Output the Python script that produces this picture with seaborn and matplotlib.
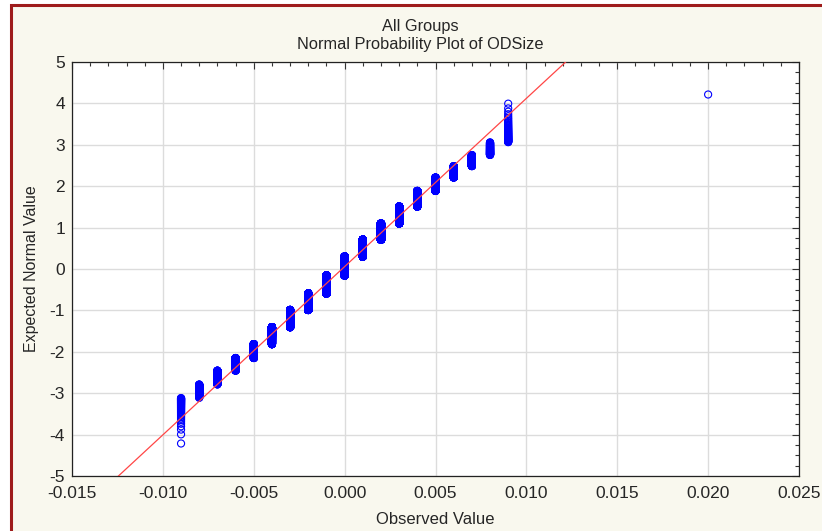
import numpy as np
import pandas as pd
import seaborn as sns
import matplotlib.pyplot as plt
import matplotlib as mpl
from matplotlib.patches import Rectangle
from statistics import NormalDist

sns.set_style("white")
plt.rcParams['font.family'] = ['Liberation Sans', 'DejaVu Sans']
plt.rcParams['axes.unicode_minus'] = False

valores = [-0.009, -0.008, -0.007, -0.006, -0.005, -0.004, -0.003, -0.002, -0.001,
           0.000, 0.001, 0.002, 0.003, 0.004, 0.005, 0.006, 0.007, 0.008, 0.009, 0.020]
frecuencias = [46, 86, 220, 437, 949, 2262, 4055, 5825, 8040,
               8975, 7165, 5155, 3510, 1790, 807, 354, 177, 92, 54, 1]

xticks = [-0.015, -0.010, -0.005, 0.000, 0.005, 0.010, 0.015, 0.020, 0.025]
yticks = [-5, -4, -3, -2, -1, 0, 1, 2, 3, 4, 5]

# Armo la muestra completa y calculo el valor normal esperado (Blom)
obs = np.sort(np.repeat(valores, frecuencias))
n = len(obs)
rangos = np.arange(1, n + 1)
nd = NormalDist()
esperado = np.array([nd.inv_cdf(p) for p in (rangos - 0.375) / (n + 0.25)])
datos = pd.DataFrame({"obs": obs, "esperado": esperado})

media = obs.mean()
desvio = obs.std()

fig = plt.figure(figsize=(8.22, 5.31), dpi=100, facecolor="white")
# Marco de fondo crema con borde bordo
fig.patches.append(Rectangle((11 / 822, -0.05), 1.1, 1 - 5 / 531 + 0.05,
                             transform=fig.transFigure, facecolor="#F9F8EE",
                             edgecolor="#9E1B1B", linewidth=2.2, zorder=-1))
ax = fig.add_axes([72 / 822, 1 - 476 / 531, 727 / 822, 414 / 531])
ax.set_facecolor("white")

sns.scatterplot(data=datos, x="obs", y="esperado", ax=ax, marker="o", s=26,
                facecolor="none", edgecolor="#0000FF", linewidth=0.8, zorder=3)

# Recta normal teorica
xl = np.array([xticks[0], xticks[-1]])
ax.plot(xl, (xl - media) / desvio, color="#FF4646", linewidth=0.9, zorder=4)

ax.set_xlim(xticks[0], xticks[-1])
ax.set_ylim(yticks[0], yticks[-1])
ax.set_xticks(xticks, labels=[f"{t:.3f}" for t in xticks])
ax.set_yticks(yticks, labels=[str(t) for t in yticks])
ax.xaxis.set_minor_locator(mpl.ticker.MultipleLocator(0.001))
ax.yaxis.set_minor_locator(mpl.ticker.MultipleLocator(0.25))
ax.tick_params(which="both", direction="in", top=True, right=True,
               color="#333333", labelsize=12.5, width=0.8)
ax.tick_params(which="major", length=5)
ax.tick_params(axis="x", which="major", pad=7)
ax.tick_params(axis="y", which="major", pad=5)
ax.tick_params(which="minor", length=3)
ax.grid(True, which="major", color="#DCDCDC", linewidth=1)
for sp in ax.spines.values():
    sp.set_color("#222222")
    sp.set_linewidth(0.9)

ax.set_xlabel("Observed Value", fontsize=12)
ax.set_ylabel("Expected Normal Value", fontsize=11.5)
ax.xaxis.set_label_coords(0.5, -0.087)
ax.yaxis.set_label_coords(-0.046, 0.5)

fig.text(420 / 822, 1 - 26 / 531, "All Groups", ha="center", va="center", fontsize=11.8)
fig.text(420 / 822, 1 - 44 / 531, "Normal Probability Plot of ODSize",
         ha="center", va="center", fontsize=11.8)

plt.savefig("out.png", dpi=100, facecolor=fig.get_facecolor())
